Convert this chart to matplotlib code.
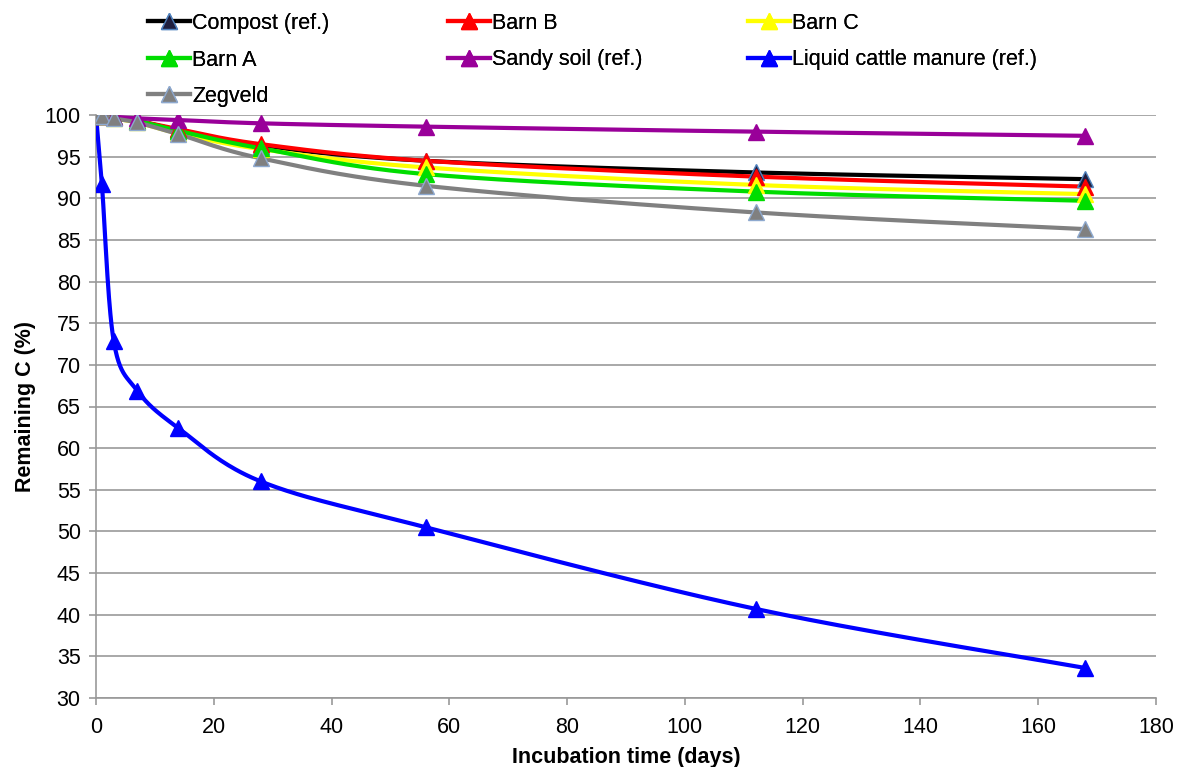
"""Remaining C during incubation, Excel-style smoothed lines."""

import numpy as np
import matplotlib

matplotlib.use("Agg")
import matplotlib.pyplot as plt
from matplotlib.lines import Line2D

plt.rcParams["font.family"] = ["Liberation Sans", "DejaVu Sans"]

days = [0, 1, 3, 7, 14, 28, 56, 112, 168]

compost = [100, 99.9, 99.7, 99.3, 98.2, 96.3, 94.5, 93.1, 92.3]
barn_b = [100, 99.9, 99.7, 99.3, 98.3, 96.5, 94.5, 92.6, 91.4]
barn_c = [100, 99.9, 99.6, 99.1, 97.8, 95.9, 93.7, 91.6, 90.5]
barn_a = [100, 99.9, 99.7, 99.3, 98.1, 96.0, 92.9, 90.8, 89.7]
sandy = [100, 99.9, 99.8, 99.6, 99.4, 99.0, 98.6, 98.0, 97.5]
liquid = [100, 91.7, 72.9, 66.9, 62.4, 56.0, 50.5, 40.7, 33.6]
zegveld = [100, 99.9, 99.6, 99.1, 97.7, 94.8, 91.5, 88.3, 86.3]

SERIES = [
    ("Compost (ref.)", compost, "#000000", "#1f1f3f", "#4f81bd"),
    ("Barn B", barn_b, "#ff0000", "#ff0000", "#ff0000"),
    ("Barn C", barn_c, "#ffff00", "#ffff00", "#ffff00"),
    ("Barn A", barn_a, "#00dd00", "#00dd00", "#00dd00"),
    ("Sandy soil (ref.)", sandy, "#990099", "#990099", "#990099"),
    ("Liquid cattle manure (ref.)", liquid, "#0000ff", "#0000ff", "#0000ff"),
    ("Zegveld", zegveld, "#808080", "#808080", "#8ea9cf"),
]

# legend columns as Excel lays them out (equal width columns)
LEGEND_COLS = [
    ["Compost (ref.)", "Barn A", "Zegveld"],
    ["Barn B", "Sandy soil (ref.)"],
    ["Barn C", "Liquid cattle manure (ref.)"],
]

# pixel scale of the plot area, used so the smoothing behaves like Excel's
SX = 1060 / 180
SY = 584 / 70


def smooth(xs, ys, n=40):
    px = np.asarray(xs, float) * SX
    py = np.asarray(ys, float) * SY
    pts = np.column_stack([px, py])
    out = []
    for i in range(len(pts) - 1):
        p0 = pts[i - 1] if i > 0 else pts[i]
        p1 = pts[i]
        p2 = pts[i + 1]
        p3 = pts[i + 2] if i + 2 < len(pts) else pts[i + 1]
        c1 = p1 + (p2 - p0) / 6
        c2 = p2 - (p3 - p1) / 6
        t = np.linspace(0, 1, n)[:, None]
        seg = ((1 - t) ** 3) * p1 + 3 * ((1 - t) ** 2) * t * c1 + 3 * (1 - t) * t ** 2 * c2 + t ** 3 * p2
        out.append(seg if i == 0 else seg[1:])
    seg = np.vstack(out)
    return seg[:, 0] / SX, seg[:, 1] / SY


fig = plt.figure(figsize=(11.79, 7.67), dpi=100)
ax = fig.add_axes([96 / 1179, 1 - 698 / 767, 1060 / 1179, 583 / 767])

handles = {}
for label, vals, color, mface, medge in SERIES:
    sx, sy = smooth(days, vals)
    ax.plot(sx, sy, color=color, linewidth=3, solid_capstyle="round", zorder=3)
    ax.plot(days, vals, linestyle="none", marker="^", markersize=11,
            markerfacecolor=mface, markeredgecolor=medge, markeredgewidth=1, zorder=4)
    handles[label] = Line2D([], [], color=color, linewidth=3, marker="^", markersize=11,
                            markerfacecolor=mface, markeredgecolor=medge, markeredgewidth=1)

ax.set_xlim(0, 180)
ax.set_ylim(30, 100)
ax.set_xticks(range(0, 181, 20))
ax.set_yticks(range(30, 101, 5))
ax.yaxis.grid(True, color="#999999", linewidth=1.2, zorder=0)
for s in ("top", "right"):
    ax.spines[s].set_visible(False)
for s in ("bottom", "left"):
    ax.spines[s].set_color("#999999")
    ax.spines[s].set_linewidth(1.2)
ax.tick_params(direction="out", length=5, width=1.2, color="#999999", labelsize=15.5, pad=6)
ax.tick_params(axis="x", pad=9)
ax.set_xlabel("Incubation time (days)", fontsize=15.5, fontweight="bold", labelpad=6)
ax.set_ylabel("Remaining C (%)", fontsize=15.5, fontweight="bold", labelpad=6)

for i, col in enumerate(LEGEND_COLS):
    leg = fig.legend([handles[k] for k in col], col, frameon=False, fontsize=15.5,
                     loc="upper left", bbox_to_anchor=((148 + 300 * i) / 1179, 1 - 13 / 767),
                     borderpad=0, borderaxespad=0, handlelength=1.95, handletextpad=0.1,
                     labelspacing=0.72)
    fig.add_artist(leg)

fig.savefig("out.png", dpi=100)
